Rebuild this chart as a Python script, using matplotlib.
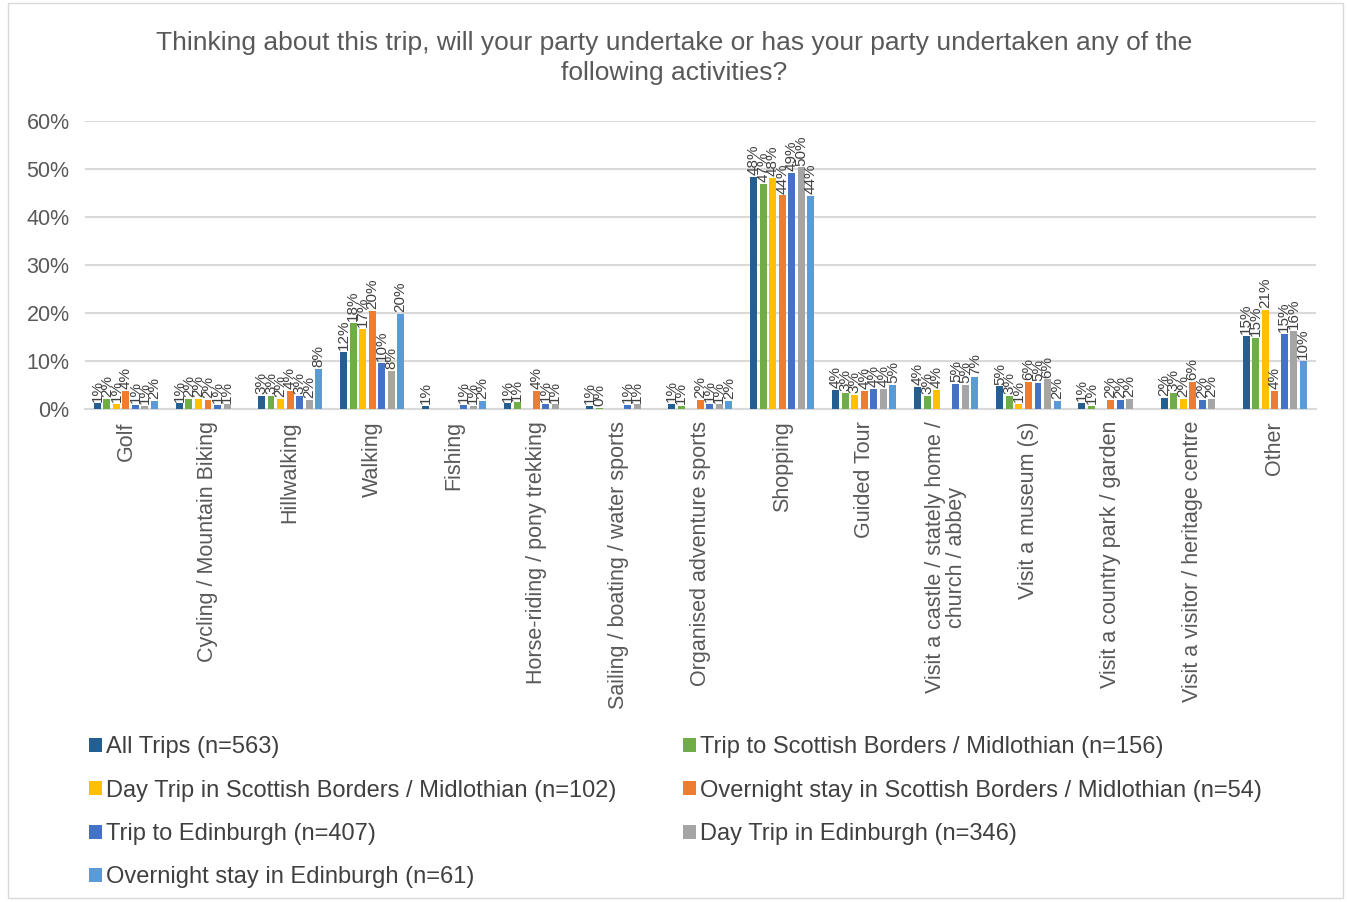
import matplotlib.pyplot as plt
import numpy as np

categories = ["Golf", "Cycling / Mountain Biking", "Hillwalking", "Walking", "Fishing",
              "Horse-riding / pony trekking", "Sailing / boating / water sports",
              "Organised adventure sports", "Shopping", "Guided Tour",
              "Visit a castle / stately home /\nchurch / abbey", "Visit a museum (s)",
              "Visit a country park / garden", "Visit a visitor / heritage centre", "Other"]

series = ["All Trips (n=563)",
          "Trip to Scottish Borders / Midlothian (n=156)",
          "Day Trip in Scottish Borders / Midlothian (n=102)",
          "Overnight stay in Scottish Borders / Midlothian (n=54)",
          "Trip to Edinburgh (n=407)",
          "Day Trip in Edinburgh (n=346)",
          "Overnight stay in Edinburgh (n=61)"]

all_trips = [1.07, 1.07, 2.66, 11.9, 0.53, 1.07, 0.53, 0.89, 48.3, 3.91, 4.44, 4.62, 1.24, 2.13, 15.1]
sb_trip = [1.92, 1.92, 2.56, 17.95, 0, 1.28, 0.2, 0.64, 46.79, 3.21, 2.56, 2.56, 0.64, 3.21, 14.74]
sb_day = [0.98, 1.96, 1.96, 16.67, 0, 0, 0, 0, 48.04, 2.94, 3.92, 0.98, 0, 1.96, 20.59]
sb_night = [3.7, 1.85, 3.7, 20.37, 0, 3.7, 0, 1.85, 44.44, 3.7, 0, 5.56, 1.85, 5.56, 3.7]
ed_trip = [0.74, 0.74, 2.7, 9.58, 0.74, 0.98, 0.74, 0.98, 49.14, 4.18, 5.16, 5.41, 1.72, 1.72, 15.48]
ed_day = [0.58, 0.87, 1.73, 7.8, 0.58, 0.87, 0.87, 0.87, 50.29, 4.05, 4.91, 6.07, 2.02, 2.02, 16.18]
ed_night = [1.64, 0, 8.2, 19.67, 1.64, 0, 0, 1.64, 44.26, 4.92, 6.56, 1.64, 0, 0, 9.84]

values = [all_trips, sb_trip, sb_day, sb_night, ed_trip, ed_day, ed_night]
colors = ["#255E91", "#70AD47", "#FFC000", "#ED7D31", "#4472C4", "#A5A5A5", "#5B9BD5"]

plt.rcParams['font.family'] = ['Liberation Sans', 'DejaVu Sans']

fig = plt.figure(figsize=(13.48, 9.02), dpi=100)
ax = fig.add_axes([0.063, 0.547, 0.913, 0.319])

x = np.arange(len(categories))
step = 0.116
w = 0.085
for i, (vals, col, name) in enumerate(zip(values, colors, series)):
    pos = x + (i - 3) * step
    ax.bar(pos, vals, width=w, color=col, label=name, zorder=3)
    for p, v in zip(pos, vals):
        if v > 0:
            ax.text(p, v + 0.4, f"{int(v + 0.5)}%", rotation=90, ha="center", va="bottom",
                    fontsize=11, color="#404040", zorder=4)

ax.set_xlim(-0.5, len(categories) - 0.5)
ax.set_ylim(0, 60)
ax.set_yticks(range(0, 61, 10))
ax.set_yticklabels([f"{t}%" for t in range(0, 61, 10)], fontsize=15.5, color="#595959")
ax.set_xticks(x)
ax.set_xticklabels(categories, rotation=90, fontsize=15.5, color="#595959", va="top",
                   linespacing=1.0)
ax.tick_params(axis="y", length=0, pad=11)
ax.tick_params(axis="x", length=0, pad=9)
ax.grid(axis="y", color="#D9D9D9", linewidth=1.5, zorder=0)
for s in ["top", "right", "left"]:
    ax.spines[s].set_visible(False)
ax.spines["bottom"].set_color("#D9D9D9")
ax.spines["bottom"].set_linewidth(1.5)

fig.text(0.5, 0.936, "Thinking about this trip, will your party undertake or has your party undertaken any of the\nfollowing activities?",
         ha="center", va="center", fontsize=19, color="#595959", linespacing=1.32)

handles, labels = ax.get_legend_handles_labels()
order = [0, 2, 4, 6, 1, 3, 5]
fig.legend([handles[k] for k in order], [labels[k] for k in order],
           loc="upper left", bbox_to_anchor=(0.066, 0.1835), ncol=2,
           frameon=False, fontsize=17, labelcolor="#404040", handlelength=0.55,
           handleheight=0.55, handletextpad=0.17, columnspacing=2.82, labelspacing=0.9,
           borderpad=0, borderaxespad=0)

border = plt.Rectangle((0.006, 0.004), 0.99, 0.993, transform=fig.transFigure,
                       fill=False, edgecolor="#D9D9D9", linewidth=1)
fig.patches.append(border)

fig.savefig("out.png", dpi=100, facecolor="white")
